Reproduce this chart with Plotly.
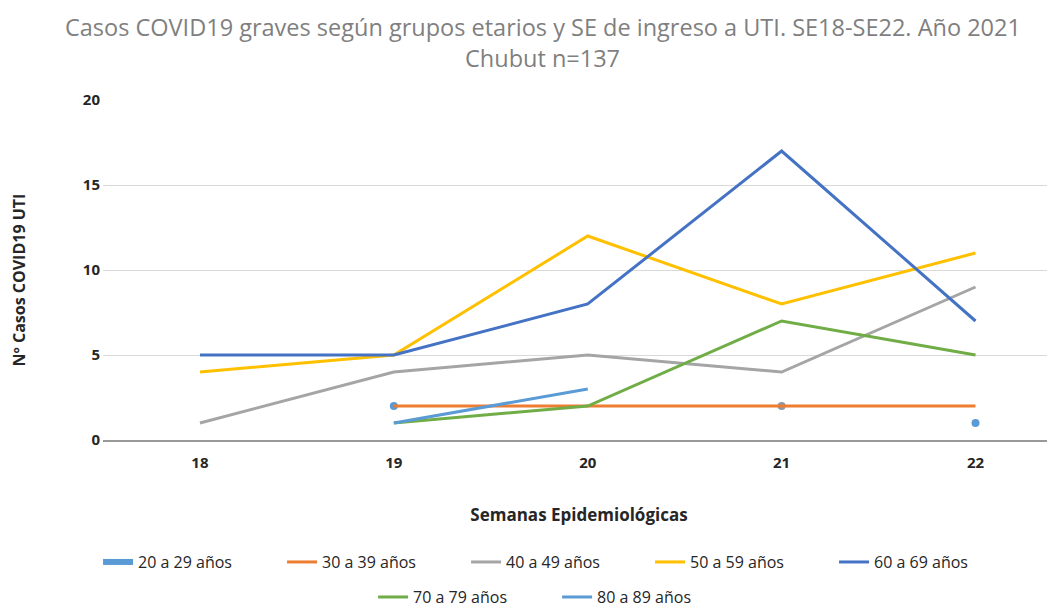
import plotly.graph_objects as go

weeks = [18, 19, 20, 21, 22]
series_names = ["20 a 29 años", "30 a 39 años", "40 a 49 años", "50 a 59 años",
                "60 a 69 años", "70 a 79 años", "80 a 89 años"]
v20_29 = [None, 2, None, 2, 1]
v30_39 = [None, 2, 2, 2, 2]
v40_49 = [1, 4, 5, 4, 9]
v50_59 = [4, 5, 12, 8, 11]
v60_69 = [5, 5, 8, 17, 7]
v70_79 = [None, 1, 2, 7, 5]
v80_89 = [None, 1, 3, None, None]

title_line1 = "Casos COVID19 graves según grupos etarios y SE de ingreso a UTI. SE18-SE22. Año 2021"
title_line2 = "Chubut n=137"
x_title = "Semanas Epidemiológicas"
y_title = "Nº Casos COVID19 UTI"

colors = ["#5B9BD5", "#ED7D31", "#A5A5A5", "#FFC000", "#4472C4", "#70AD47", "#5B9BD5"]
values = [v20_29, v30_39, v40_49, v50_59, v60_69, v70_79, v80_89]

FONT = "Open Sans, sans-serif"

fig = go.Figure()
for i, (name, vals, col) in enumerate(zip(series_names, values, colors)):
    legend = "legend" if i < 5 else "legend2"
    if i == 0:
        fig.add_trace(go.Scatter(
            x=weeks, y=vals, name=name, mode="markers",
            marker=dict(color=[col, col, col, "#8A98AC", col], size=8),
            legend=legend, showlegend=False))
        fig.add_trace(go.Scatter(x=[None], y=[None], name=name, mode="lines",
                                 line=dict(color=col, width=6), legend=legend))
    else:
        fig.add_trace(go.Scatter(
            x=weeks, y=vals, name=name, mode="lines",
            line=dict(color=col, width=3), legend=legend))

fig.add_annotation(text=title_line1, xref="paper", yref="paper", x=0.462, y=1.268,
                   xanchor="center", yanchor="top", showarrow=False,
                   font=dict(family=FONT, size=23.5, color="#7F7F7F"))
fig.add_annotation(text=title_line2, xref="paper", yref="paper", x=0.462, y=1.1235,
                   xanchor="center", yanchor="middle", showarrow=False,
                   font=dict(family=FONT, size=23.5, color="#7F7F7F"))
fig.add_annotation(text=y_title, xref="paper", yref="paper", x=-0.088, y=0.47,
                   xanchor="center", yanchor="middle", showarrow=False, textangle=-90,
                   font=dict(family=FONT, size=16, color="#262626", weight="bold"))

legend_common = dict(orientation="h", xanchor="center", yanchor="middle",
                     font=dict(family=FONT, size=16, color="#262626"),
                     entrywidth=139, entrywidthmode="pixels", itemwidth=30,
                     bgcolor="rgba(0,0,0,0)")

fig.update_layout(
    width=1055, height=608,
    paper_bgcolor="white", plot_bgcolor="white",
    margin=dict(l=95, r=8, t=92, b=176, autoexpand=False),
    xaxis=dict(
        range=[17.5, 22.41], tickvals=weeks, ticktext=[str(w) for w in weeks],
        showgrid=False, showline=True, linecolor="#999999", linewidth=2,
        tickfont=dict(family=FONT, size=15, color="#262626", weight="bold"),
        ticks="", zeroline=False, ticklabelstandoff=8,
        title=dict(text=x_title,
                   font=dict(family=FONT, size=17, color="#262626", weight="bold"),
                   standoff=38),
    ),
    yaxis=dict(
        range=[0, 20], tickvals=[0, 5, 10, 15, 20], showgrid=True,
        gridcolor="#D9D9D9", gridwidth=1, zeroline=False,
        tickfont=dict(family=FONT, size=15, color="#262626", weight="bold"),
        ticks="", ticklabelstandoff=2,
    ),
    legend=dict(x=0.478, y=-0.359, **legend_common),
    legend2=dict(x=0.477, y=-0.462, **legend_common),
    showlegend=True,
)

fig.write_html("out.html")
